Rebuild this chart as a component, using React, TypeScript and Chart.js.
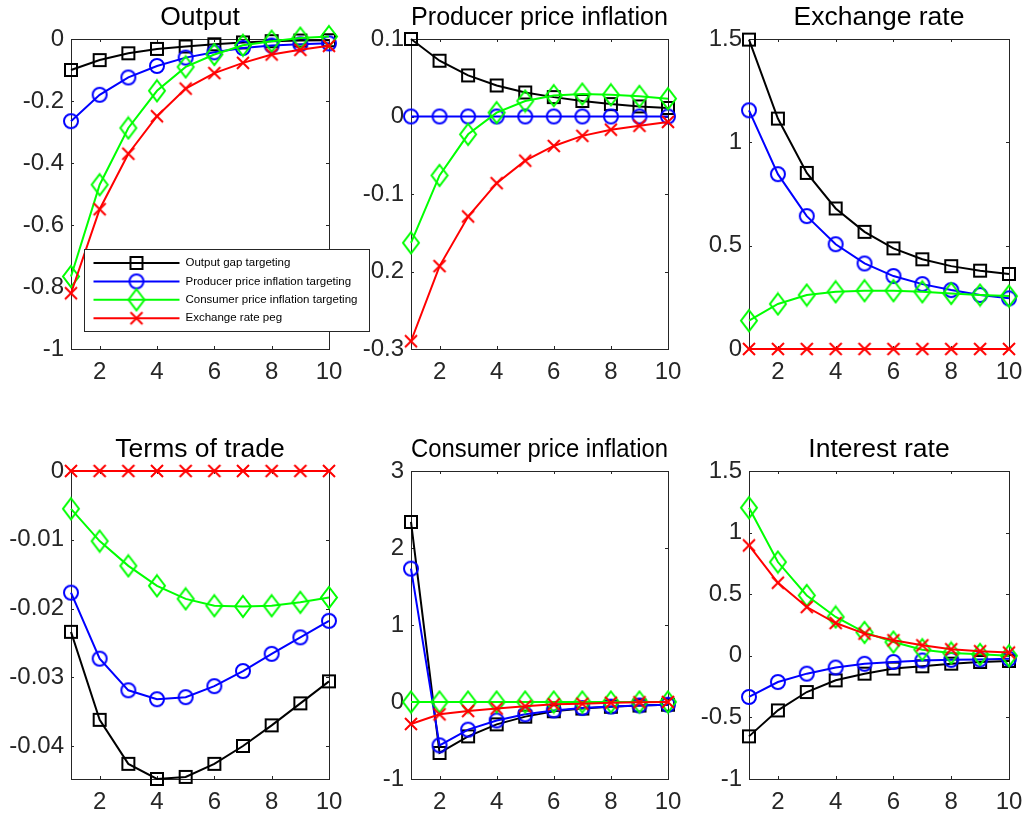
import { useEffect, useRef } from "react";
import { Chart, registerables } from "chart.js";

Chart.register(...registerables);

const FONT = '"Liberation Sans", Arial, Helvetica, sans-serif';
const AXIS_COLOR = "#262626";
const TICK_LEN = 3;
const Y_AXIS_W = 70;
const X_AXIS_H = 45;
const TITLE_H = 39;

// quarters after the shock
const periods = [1, 2, 3, 4, 5, 6, 7, 8, 9, 10];
const xTicks = [2, 4, 6, 8, 10];

const seriesNames = [
  "Output gap targeting",
  "Producer price inflation targeting",
  "Consumer price inflation targeting",
  "Exchange rate peg",
];
const seriesColors = ["#000000", "#0000ff", "#00ff00", "#ff0000"];
const seriesMarkers = ["square", "circle", "diamond", "cross"];

// Output
const outputOgt = [-0.1, -0.068, -0.046, -0.032, -0.024, -0.017, -0.011, -0.007, -0.005, -0.004];
const outputPpi = [-0.265, -0.18, -0.124, -0.087, -0.06, -0.043, -0.029, -0.021, -0.017, -0.014];
const outputCpi = [-0.766, -0.47, -0.287, -0.167, -0.09, -0.05, -0.02, -0.007, 0.003, 0.008];
const outputPeg = [-0.82, -0.549, -0.37, -0.249, -0.16, -0.11, -0.077, -0.05, -0.035, -0.022];
const outputTicks = [-1, -0.8, -0.6, -0.4, -0.2, 0];

// Producer price inflation
const ppiOgt = [0.1, 0.072, 0.053, 0.04, 0.031, 0.025, 0.02, 0.016, 0.013, 0.011];
const ppiPpi = [0, 0, 0, 0, 0, 0, 0, 0, 0, 0];
const ppiCpi = [-0.163, -0.076, -0.023, 0.005, 0.02, 0.027, 0.029, 0.028, 0.026, 0.023];
const ppiPeg = [-0.29, -0.193, -0.129, -0.086, -0.057, -0.038, -0.025, -0.017, -0.012, -0.007];
const ppiTicks = [-0.3, -0.2, -0.1, 0, 0.1];

// Exchange rate
const fxOgt = [1.497, 1.115, 0.852, 0.68, 0.567, 0.487, 0.434, 0.401, 0.379, 0.363];
const fxPpi = [1.155, 0.846, 0.643, 0.507, 0.414, 0.353, 0.314, 0.285, 0.261, 0.245];
const fxCpi = [0.137, 0.218, 0.261, 0.277, 0.282, 0.282, 0.277, 0.269, 0.261, 0.256];
const fxPeg = [0, 0, 0, 0, 0, 0, 0, 0, 0, 0];
const fxTicks = [0, 0.5, 1, 1.5];

// Terms of trade
const totOgt = [-0.0234, -0.0362, -0.0426, -0.0448, -0.0445, -0.0426, -0.04, -0.037, -0.0338, -0.0306];
const totPpi = [-0.0177, -0.0273, -0.0319, -0.0332, -0.0329, -0.0313, -0.0291, -0.0266, -0.0242, -0.0218];
const totCpi = [-0.0055, -0.0102, -0.0138, -0.0167, -0.0186, -0.0196, -0.0197, -0.0196, -0.0191, -0.0184];
const totPeg = [0, 0, 0, 0, 0, 0, 0, 0, 0, 0];
const totTicks = [-0.04, -0.03, -0.02, -0.01, 0];

// Consumer price inflation
const cpiOgt = [2.338, -0.662, -0.446, -0.29, -0.19, -0.12, -0.085, -0.062, -0.046, -0.035];
const cpiPpi = [1.732, -0.563, -0.359, -0.24, -0.16, -0.11, -0.078, -0.06, -0.045, -0.035];
const cpiCpi = [0, 0, 0, 0, 0, 0, 0, 0, 0, 0];
const cpiPeg = [-0.285, -0.16, -0.117, -0.085, -0.056, -0.03, -0.022, -0.01, -0.004, 0];
const cpiTicks = [-1, 0, 1, 2, 3];

// Interest rate
const rateOgt = [-0.654, -0.443, -0.294, -0.199, -0.145, -0.104, -0.085, -0.064, -0.05, -0.042];
const ratePpi = [-0.334, -0.213, -0.145, -0.095, -0.065, -0.05, -0.038, -0.033, -0.03, -0.024];
const rateCpi = [1.202, 0.761, 0.49, 0.315, 0.19, 0.112, 0.05, 0.023, 0.012, 0];
const ratePeg = [0.896, 0.593, 0.396, 0.266, 0.18, 0.126, 0.085, 0.053, 0.037, 0.026];
const rateTicks = [-1, -0.5, 0, 0.5, 1, 1.5];

interface PanelSpec {
  title: string;
  series: number[][];
  yMin: number;
  yMax: number;
  yTicks: number[];
  left: number; // plot area, page px
  top: number;
  width: number;
  height: number;
}

const panels: PanelSpec[] = [
  { title: "Output", series: [outputOgt, outputPpi, outputCpi, outputPeg], yMin: -1, yMax: 0, yTicks: outputTicks, left: 71, top: 39, width: 258, height: 310 },
  { title: "Producer price inflation", series: [ppiOgt, ppiPpi, ppiCpi, ppiPeg], yMin: -0.3, yMax: 0.1, yTicks: ppiTicks, left: 411, top: 39, width: 257, height: 310 },
  { title: "Exchange rate", series: [fxOgt, fxPpi, fxCpi, fxPeg], yMin: 0, yMax: 1.5, yTicks: fxTicks, left: 749, top: 39, width: 260, height: 310 },
  { title: "Terms of trade", series: [totOgt, totPpi, totCpi, totPeg], yMin: -0.0448, yMax: 0, yTicks: totTicks, left: 71, top: 471, width: 258, height: 308 },
  { title: "Consumer price inflation", series: [cpiOgt, cpiPpi, cpiCpi, cpiPeg], yMin: -1, yMax: 3, yTicks: cpiTicks, left: 411, top: 471, width: 257, height: 308 },
  { title: "Interest rate", series: [rateOgt, ratePpi, rateCpi, ratePeg], yMin: -1, yMax: 1.5, yTicks: rateTicks, left: 749, top: 471, width: 260, height: 308 },
];

// MATLAB-like open markers, drawn once on small canvases
function makeMarker(kind: string, color: string): HTMLCanvasElement {
  const c = document.createElement("canvas");
  const ctx = c.getContext("2d")!;
  if (kind === "diamond") {
    c.width = 20;
    c.height = 25;
  } else if (kind === "circle") {
    c.width = 18;
    c.height = 18;
  } else {
    c.width = 16;
    c.height = 16;
  }
  ctx.strokeStyle = color;
  ctx.lineWidth = 2;
  ctx.beginPath();
  if (kind === "square") {
    ctx.rect(2, 2, 12, 12);
  } else if (kind === "circle") {
    ctx.arc(9, 9, 7, 0, Math.PI * 2);
  } else if (kind === "diamond") {
    ctx.moveTo(10, 2);
    ctx.lineTo(18, 12.5);
    ctx.lineTo(10, 23);
    ctx.lineTo(2, 12.5);
    ctx.closePath();
  } else {
    ctx.moveTo(2, 2);
    ctx.lineTo(14, 14);
    ctx.moveTo(14, 2);
    ctx.lineTo(2, 14);
  }
  ctx.stroke();
  return c;
}

const boxPlugin = {
  id: "matlabBox",
  beforeDatasetsDraw(chart: any) {
    const { ctx, chartArea: a, scales } = chart;
    ctx.save();
    ctx.strokeStyle = AXIS_COLOR;
    ctx.lineWidth = 1;
    ctx.strokeRect(a.left + 0.5, a.top + 0.5, a.right - a.left, a.bottom - a.top);
    ctx.beginPath();
    for (const t of scales.x.ticks) {
      const px = Math.round(scales.x.getPixelForValue(t.value)) + 0.5;
      ctx.moveTo(px, a.bottom);
      ctx.lineTo(px, a.bottom - TICK_LEN);
      ctx.moveTo(px, a.top);
      ctx.lineTo(px, a.top + TICK_LEN);
    }
    for (const t of scales.y.ticks) {
      const py = Math.round(scales.y.getPixelForValue(t.value)) + 0.5;
      ctx.moveTo(a.left, py);
      ctx.lineTo(a.left + TICK_LEN, py);
      ctx.moveTo(a.right, py);
      ctx.lineTo(a.right - TICK_LEN, py);
    }
    ctx.stroke();
    ctx.restore();
  },
};

function legendPlugin(markers: HTMLCanvasElement[]) {
  return {
    id: "matlabLegend",
    afterDraw(chart: any) {
      const { ctx, chartArea: a } = chart;
      const bw = 285;
      const bh = 82;
      const bx = a.left + 13.5;
      const by = a.bottom - 17.5 - bh;
      ctx.save();
      ctx.fillStyle = "#ffffff";
      ctx.fillRect(bx, by, bw, bh);
      ctx.strokeStyle = AXIS_COLOR;
      ctx.lineWidth = 1;
      ctx.strokeRect(bx, by, bw, bh);
      ctx.font = `11.5px ${FONT}`;
      ctx.textBaseline = "middle";
      seriesNames.forEach((name, i) => {
        const y = by + 13.5 + i * 18.4;
        ctx.strokeStyle = seriesColors[i];
        ctx.lineWidth = 2;
        ctx.beginPath();
        ctx.moveTo(bx + 9, y);
        ctx.lineTo(bx + 95, y);
        ctx.stroke();
        const m = markers[i];
        ctx.drawImage(m, bx + 52 - m.width / 2, y - m.height / 2);
        ctx.fillStyle = "#000000";
        ctx.fillText(name, bx + 101, y);
      });
      ctx.restore();
    },
  };
}

function Panel({ spec, legend }: { spec: PanelSpec; legend?: boolean }) {
  const canvasRef = useRef<HTMLCanvasElement>(null);
  const chartRef = useRef<Chart | null>(null);

  useEffect(() => {
    if (!canvasRef.current) return;
    if (chartRef.current) chartRef.current.destroy();

    const markers = seriesMarkers.map((m, i) => makeMarker(m, seriesColors[i]));

    chartRef.current = new Chart(canvasRef.current, {
      type: "line",
      data: {
        datasets: spec.series.map((vals, i) => ({
          label: seriesNames[i],
          data: periods.map((x, j) => ({ x, y: vals[j] })),
          borderColor: seriesColors[i],
          backgroundColor: seriesColors[i],
          borderWidth: 2,
          pointStyle: markers[i],
          pointRadius: 8,
          tension: 0,
          clip: false,
          order: 4 - i,
        })),
      },
      options: {
        responsive: false,
        animation: false,
        events: [],
        layout: { padding: { left: 0, right: Y_AXIS_W, top: 0, bottom: 0 } },
        plugins: {
          legend: { display: false },
          tooltip: { enabled: false },
          title: {
            display: true,
            fullSize: false,
            text: spec.title,
            color: "#000000",
            font: { family: FONT, size: 26.5, weight: "normal" },
            padding: { top: 1.6, bottom: 5.6 },
          },
        },
        scales: {
          x: {
            type: "linear",
            min: 1,
            max: 10,
            grid: { display: false, drawTicks: false },
            border: { display: false },
            ticks: {
              color: AXIS_COLOR,
              font: { family: FONT, size: 24 },
              padding: 9,
              maxRotation: 0,
              autoSkip: false,
              callback: (v: any) => String(v),
            },
            afterBuildTicks: (s: any) => {
              s.ticks = xTicks.map((v) => ({ value: v }));
            },
            afterFit: (s: any) => {
              s.height = X_AXIS_H;
            },
          },
          y: {
            type: "linear",
            min: spec.yMin,
            max: spec.yMax,
            grid: { display: false, drawTicks: false },
            border: { display: false },
            ticks: {
              color: AXIS_COLOR,
              font: { family: FONT, size: 24 },
              padding: 7,
              autoSkip: false,
              callback: (v: any) => String(v),
            },
            afterBuildTicks: (s: any) => {
              s.ticks = spec.yTicks.map((v) => ({ value: v }));
            },
            afterFit: (s: any) => {
              s.width = Y_AXIS_W;
            },
          },
        },
      } as any,
      plugins: legend ? [boxPlugin, legendPlugin(markers)] : [boxPlugin],
    });

    return () => {
      if (chartRef.current) {
        chartRef.current.destroy();
        chartRef.current = null;
      }
    };
  }, [spec, legend]);

  return (
    <canvas
      ref={canvasRef}
      width={spec.width + 2 * Y_AXIS_W}
      height={spec.height + TITLE_H + X_AXIS_H}
      style={{
        position: "absolute",
        left: spec.left - Y_AXIS_W,
        top: spec.top - TITLE_H,
        zIndex: legend ? 2 : 1,
      }}
    />
  );
}

export default function App() {
  return (
    <div
      style={{
        position: "absolute",
        left: 0,
        top: 0,
        width: 1026,
        height: 818,
        background: "#ffffff",
        overflow: "hidden",
      }}
    >
      {panels.map((p, i) => (
        <Panel key={p.title} spec={p} legend={i === 0} />
      ))}
    </div>
  );
}
